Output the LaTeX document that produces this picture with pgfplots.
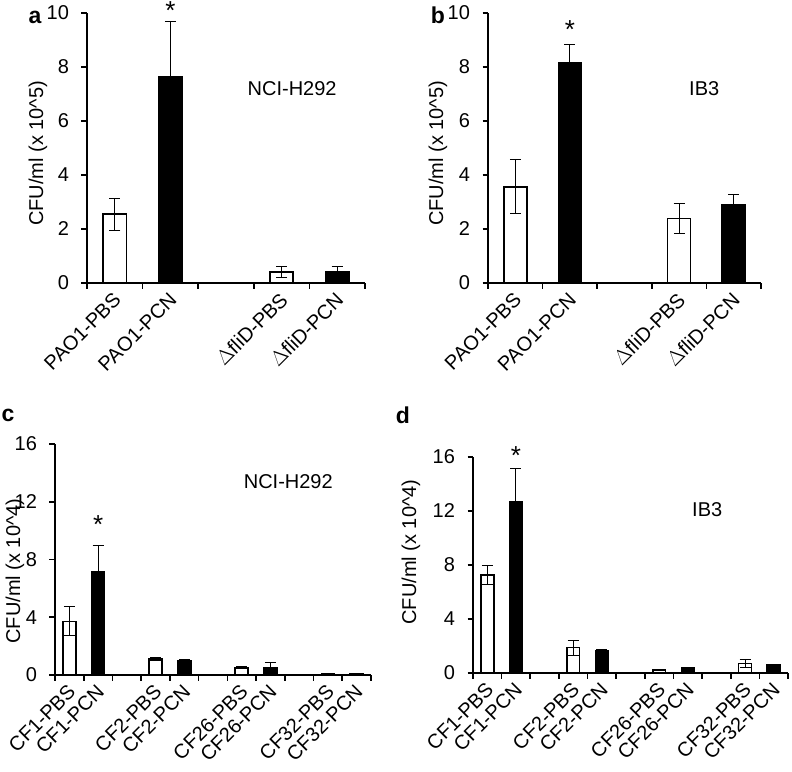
\documentclass[border=0pt]{standalone}
\usepackage{pgfplots}
\pgfplotsset{compat=1.18}
\usepackage{fontspec}
\setmainfont{Liberation Sans}
\newcommand{\fs}{\fontsize{20}{24}\selectfont}
\newcommand{\fsl}{\fontsize{20}{24}\selectfont}
\pgfplotsset{
  panel/.style={
    scale only axis,
    axis lines=left,
    axis line style={-, line width=1.6pt},
    tick align=outside,
    major tick length=5.5pt,
    every tick/.style={line width=1.6pt, black},
    ymin=0, clip=false,
    /pgf/number format/assume math mode=true,
    yticklabel style={font=\fsl, xshift=-9pt},
    every axis y label/.append style={font=\fsl},
    xticklabels={},
    extra x tick style={major tick length=0pt, xticklabel style={font=\fsl, xshift=4pt, yshift=-12pt, rotate=45, anchor=east, inner sep=2pt}},
    ytick pos=left, xtick pos=bottom,
  },
  pbs/.style={ybar, bar width=0.42, bar shift=0pt, fill=white, draw=black, line width=1.6pt,
    error bars/y dir=both, error bars/y explicit,
    error bars/error bar style={line width=1pt, black},
    error bars/error mark options={rotate=90, mark size=5.5pt, line width=1pt, black}},
  pcn/.style={pbs, fill=black},
  pbs2/.style={pbs, bar width=0.45},
  pcn2/.style={pbs2, fill=black},
}
\newcommand{\sigstar}{\fontsize{26}{30}\selectfont *}
\begin{document}
\begin{tikzpicture}
\useasboundingbox (0,0) rectangle (792pt,-771pt);
% ---------- a ----------
\begin{axis}[panel, at={(87pt,-283pt)}, anchor=south west, width=278pt, height=270pt,
  xmin=-0.5, xmax=4.5, ymax=10, ytick={0,2,...,10},
  xtick={-0.5,0.5,...,4.5},
  extra x ticks={0,1,3,4},
  extra x tick labels={PAO1-PBS,PAO1-PCN,$\Delta$fliD-PBS,$\Delta$fliD-PCN},
  ylabel={\fsl CFU/ml (x 10\textasciicircum5)},
  ylabel style={at={(axis description cs:-0.176,0.48)}, anchor=center}]
\addplot[pbs] coordinates {(0,2.55) +- (0,0.59) (3,0.41) +- (0,0.2)};
\addplot[pcn] coordinates {(1,7.62) +- (0,2.05) (4,0.40) +- (0,0.2)};
\node at (axis cs:1,10.1) {\sigstar};
\node[font=\fs] at (axis cs:3.19,7.19) {NCI-H292};
\end{axis}
% ---------- b ----------
\begin{axis}[panel, at={(488pt,-283pt)}, anchor=south west, width=273pt, height=270pt,
  xmin=-0.5, xmax=4.5, ymax=10, ytick={0,2,...,10},
  xtick={-0.5,0.5,...,4.5},
  extra x ticks={0,1,3,4},
  extra x tick labels={PAO1-PBS,PAO1-PCN,$\Delta$fliD-PBS,$\Delta$fliD-PCN},
  ylabel={\fsl CFU/ml (x 10\textasciicircum5)},
  ylabel style={at={(axis description cs:-0.183,0.48)}, anchor=center}]
\addplot[pbs] coordinates {(0,3.56) +- (0,1.0) (3,2.39) +- (0,0.56)};
\addplot[pcn] coordinates {(1,8.17) +- (0,0.68) (4,2.91) +- (0,0.37)};
\node at (axis cs:1,9.4) {\sigstar};
\node[font=\fs] at (axis cs:3.46,7.19) {IB3};
\end{axis}
% ---------- c ----------
\begin{axis}[panel, at={(55pt,-675pt)}, anchor=south west, width=316pt, height=231pt,
  xmin=-0.5, xmax=10.5, ymax=16, ytick={0,4,...,16},
  xtick={-0.5,0.5,...,10.5},
  extra x ticks={0,1,3,4,6,7,9,10},
  extra x tick labels={CF1-PBS,CF1-PCN,CF2-PBS,CF2-PCN,CF26-PBS,CF26-PCN,CF32-PBS,CF32-PCN},
  ylabel={\fsl CFU/ml (x 10\textasciicircum4)},
  ylabel style={at={(axis description cs:-0.127,0.45)}, anchor=center}]
\addplot[pbs2] coordinates {(0,3.72) +- (0,1.0) (3,1.10) +- (0,0.12) (6,0.53) +- (0,0.05) (9,0.10) +- (0,0.02)};
\addplot[pcn2] coordinates {(1,7.18) +- (0,1.8) (4,0.99) +- (0,0.05) (7,0.48) +- (0,0.37) (10,0.08) +- (0,0.02)};
\node at (axis cs:1,10.4) {\sigstar};
\node[font=\fs] at (axis cs:7.62,13.37) {NCI-H292};
\end{axis}
% ---------- d ----------
\begin{axis}[panel, at={(473pt,-673pt)}, anchor=south west, width=315pt, height=216pt,
  xmin=-0.5, xmax=10.5, ymax=16, ytick={0,4,...,16},
  xtick={-0.5,0.5,...,10.5},
  extra x ticks={0,1,3,4,6,7,9,10},
  extra x tick labels={CF1-PBS,CF1-PCN,CF2-PBS,CF2-PCN,CF26-PBS,CF26-PCN,CF32-PBS,CF32-PCN},
  ylabel={\fsl CFU/ml (x 10\textasciicircum4)},
  ylabel style={at={(axis description cs:-0.197,0.56)}, anchor=center}]
\addplot[pbs2] coordinates {(0,7.28) +- (0,0.7) (3,1.88) +- (0,0.55) (6,0.25) +- (0,0.03) (9,0.69) +- (0,0.28)};
\addplot[pcn2] coordinates {(1,12.65) +- (0,2.5) (4,1.68) +- (0,0.05) (7,0.38) +- (0,0.03) (10,0.60) +- (0,0.05)};
\node at (axis cs:1,16.1) {\sigstar};
\node[font=\fs] at (axis cs:7.68,12.07) {IB3};
\end{axis}
% panel letters
\node[font=\fontsize{23}{27}\selectfont\bfseries] at (35pt,-17pt) {a};
\node[font=\fontsize{23}{27}\selectfont\bfseries] at (438pt,-15pt) {b};
\node[font=\fontsize{23}{27}\selectfont\bfseries] at (8pt,-415pt) {c};
\node[font=\fontsize{23}{27}\selectfont\bfseries] at (403pt,-415pt) {d};
\end{tikzpicture}
\end{document}
